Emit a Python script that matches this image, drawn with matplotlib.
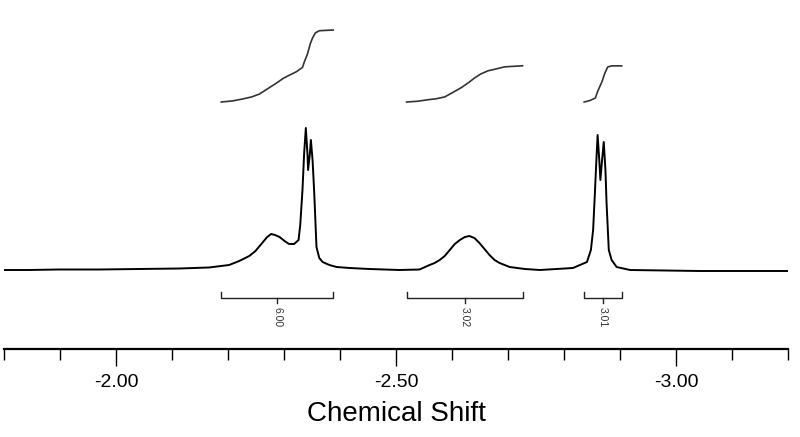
import numpy as np
import matplotlib
matplotlib.use("Agg")
from matplotlib import pyplot as plt
from matplotlib.ticker import MultipleLocator, FixedLocator

plt.rcParams['font.family'] = ['Liberation Sans', 'DejaVu Sans']

# spectrum trace: chemical shift (ppm) and intensity (a.u.)
shift = [-1.800, -1.844, -1.898, -1.970, -2.041, -2.113, -2.166, -2.202, -2.220,
         -2.238, -2.249, -2.261, -2.270, -2.277, -2.284, -2.292, -2.301, -2.309,
         -2.318, -2.326, -2.329, -2.333, -2.336, -2.339, -2.342, -2.343, -2.346,
         -2.348, -2.351, -2.354, -2.358, -2.363, -2.369, -2.381, -2.394, -2.417,
         -2.453, -2.506, -2.542, -2.560, -2.569, -2.578, -2.587, -2.596, -2.605,
         -2.614, -2.623, -2.631, -2.640, -2.649, -2.658, -2.667, -2.676, -2.685,
         -2.703, -2.730, -2.757, -2.816, -2.841, -2.848, -2.852, -2.855, -2.857,
         -2.860, -2.863, -2.865, -2.868, -2.871, -2.874, -2.876, -2.880, -2.885,
         -2.894, -2.918, -3.043, -3.200]
intensity = [0, 0, 0.5, 0.5, 1, 1.5, 2.5, 5, 9,
             14, 19, 27, 33, 36, 35, 33, 29, 26,
             26, 30, 45, 80, 117, 142, 115, 100, 115,
             130, 110, 77, 23, 12, 8, 5, 3, 2,
             1, 0, 0.5, 5, 7, 10, 14, 20, 26,
             30, 33, 34, 32, 27, 21, 15, 10, 7,
             3, 1, 0, 2, 8, 20, 40, 75, 100,
             135, 110, 90, 110, 128, 100, 67, 20, 10,
             3, 0, -1, -1]

# integration regions
region_start = [-2.188, -2.519, -2.836]
region_end = [-2.388, -2.726, -2.903]
integral_value = [6.00, 3.02, 3.01]
integral_labels = ['6.00', '3.02', '3.01']

# running integral (fraction of total) inside each region
int_shift = [
    [-2.188, -2.208, -2.225, -2.242, -2.256, -2.270, -2.286, -2.299, -2.309,
     -2.322, -2.333, -2.336, -2.342, -2.347, -2.351, -2.356, -2.363, -2.388],
    [-2.519, -2.538, -2.556, -2.572, -2.587, -2.601, -2.617, -2.630, -2.640,
     -2.651, -2.664, -2.678, -2.694, -2.726],
    [-2.836, -2.846, -2.856, -2.860, -2.868, -2.873, -2.878, -2.885, -2.903],
]
int_frac = [
    [0, 0.015, 0.04, 0.07, 0.11, 0.18, 0.26, 0.33, 0.37,
     0.42, 0.48, 0.55, 0.67, 0.81, 0.89, 0.96, 0.99, 1.0],
    [0, 0.02, 0.06, 0.09, 0.14, 0.26, 0.40, 0.54, 0.66,
     0.77, 0.86, 0.91, 0.97, 1.0],
    [0, 0.04, 0.11, 0.29, 0.57, 0.80, 0.97, 1.0, 1.0],
]

fig = plt.figure(figsize=(8, 4.37), dpi=100)
ax = fig.add_axes([4 / 800, 1 - 349 / 437, 784 / 800, 329 / 437])

ax.plot(shift, intensity, color='black', lw=1.4)

int_base = 168
int_scale = 12
for xs, fr, val in zip(int_shift, int_frac, integral_value):
    ax.plot(xs, int_base + np.array(fr) * val * int_scale, color='#333333', lw=1.2)

for a, b, lab in zip(region_start, region_end, integral_labels):
    mid = (a + b) / 2
    ax.plot([a, a, b, b], [-22, -28, -28, -22], color='#222222', lw=1)
    ax.plot([mid, mid], [-28, -33], color='#222222', lw=1)
    ax.text(mid, -37, lab, rotation=-90, ha='center', va='top', fontsize=7.5,
            color='#333333')

ax.set_xlim(-1.80, -3.20)
ax.set_ylim(-79, 250)

for side in ['top', 'left', 'right']:
    ax.spines[side].set_visible(False)
ax.spines['bottom'].set_linewidth(1.6)
ax.set_yticks([])

ax.xaxis.set_major_locator(FixedLocator([-2.0, -2.5, -3.0]))
ax.xaxis.set_minor_locator(MultipleLocator(0.1))
ax.xaxis.set_major_formatter(lambda v, p: f'{v:.2f}')
ax.tick_params(axis='x', which='major', length=12, width=1, pad=6, labelsize=14)
ax.tick_params(axis='x', which='minor', length=8, width=1)
ax.set_xlabel('Chemical Shift', fontsize=20, labelpad=7)

fig.savefig('out.png', dpi=100, facecolor='white')
